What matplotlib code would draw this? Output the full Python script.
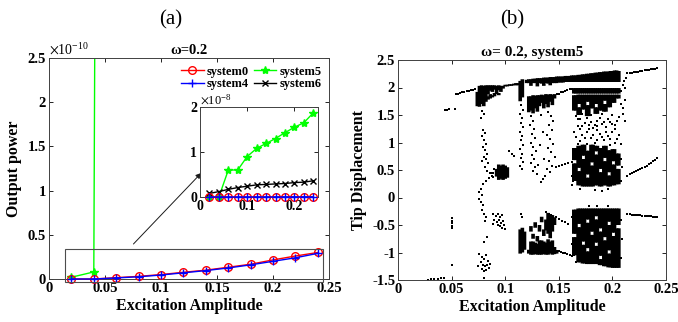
import matplotlib
matplotlib.use("Agg")
import matplotlib.pyplot as plt
from matplotlib.patches import Rectangle
from matplotlib.ticker import FuncFormatter

plt.rcParams['font.family'] = ['Liberation Serif', 'DejaVu Serif']
plt.rcParams['mathtext.fontset'] = 'stix'

# ---------------- (a) output power ----------------
amp = [0.02, 0.04, 0.06, 0.08, 0.10, 0.12, 0.14, 0.16, 0.18, 0.20, 0.22, 0.24]
# watts
p_sys0 = [0.0, 0.0, 0.015e-10, 0.03e-10, 0.05e-10, 0.076e-10, 0.10e-10, 0.133e-10,
          0.167e-10, 0.216e-10, 0.26e-10, 0.30e-10]
p_sys4 = [0.0, 0.0, 0.012e-10, 0.025e-10, 0.045e-10, 0.07e-10, 0.095e-10, 0.125e-10,
          0.16e-10, 0.20e-10, 0.24e-10, 0.29e-10]
p_sys5 = [0.02e-10, 0.08e-10, 0.60e-8, 0.60e-8, 0.90e-8, 1.08e-8, 1.19e-8, 1.30e-8,
          1.43e-8, 1.55e-8, 1.65e-8, 1.87e-8]
p_sys6 = [0.08e-8, 0.12e-8, 0.17e-8, 0.21e-8, 0.24e-8, 0.27e-8, 0.28e-8, 0.29e-8,
          0.30e-8, 0.32e-8, 0.33e-8, 0.36e-8]

# ---------------- (b) bifurcation, system5 ----------------
# thin branches
br_x = [0.028, 0.031, 0.034, 0.037, 0.040, 0.043,
        0.044, 0.046, 0.048, 0.053,
        0.054, 0.056, 0.058, 0.060, 0.062, 0.064, 0.066, 0.068, 0.070, 0.072,
        0.148, 0.150, 0.152, 0.154, 0.156, 0.158, 0.160, 0.162,
        0.147, 0.150, 0.153, 0.156, 0.159, 0.162,
        0.138, 0.141, 0.144, 0.147, 0.150, 0.153, 0.156, 0.159,
        0.148, 0.150, 0.152, 0.154, 0.156, 0.158, 0.160, 0.162,
        0.214, 0.216, 0.218, 0.220, 0.222, 0.224, 0.226, 0.228, 0.230, 0.232, 0.234, 0.236, 0.238, 0.240, 0.242,
        0.214, 0.216, 0.218, 0.220, 0.222, 0.224, 0.226, 0.228, 0.230, 0.232, 0.234, 0.236, 0.238, 0.240, 0.242,
        0.214, 0.216, 0.218, 0.220, 0.222, 0.224, 0.226, 0.228, 0.230, 0.232, 0.234, 0.236, 0.238, 0.240, 0.242]
br_y = [-1.50, -1.49, -1.485, -1.475, -1.47, -1.46,
        1.60, 1.60, 1.61, 1.61,
        1.88, 1.89, 1.90, 1.91, 1.92, 1.93, 1.94, 1.95, 1.96, 1.97,
        1.88, 1.89, 1.91, 1.92, 1.94, 1.95, 1.97, 1.98,
        0.55, 0.57, 0.59, 0.61, 0.63, 0.65,
        -0.27, -0.30, -0.33, -0.36, -0.39, -0.42, -0.45, -0.48,
        -0.97, -0.98, -0.99, -1.00, -1.01, -1.03, -1.04, -1.06,
        2.26, 2.27, 2.27, 2.28, 2.28, 2.29, 2.30, 2.30, 2.31, 2.32, 2.32, 2.33, 2.34, 2.34, 2.35,
        0.40, 0.42, 0.44, 0.46, 0.48, 0.50, 0.52, 0.54, 0.56, 0.58, 0.61, 0.63, 0.66, 0.69, 0.72,
        -0.30, -0.305, -0.31, -0.315, -0.32, -0.32, -0.325, -0.33, -0.33, -0.335, -0.34, -0.345, -0.35, -0.355, -0.36]

# dense intervals (x, y_low, y_high)
bands = [
    # cluster near 0.08, top
    (0.074, 1.66, 1.92), (0.076, 1.65, 2.03), (0.078, 1.70, 2.04), (0.080, 1.66, 2.03),
    (0.082, 1.74, 2.04), (0.084, 1.88, 2.04), (0.084, 1.78, 1.84), (0.086, 1.94, 2.04),
    (0.086, 1.80, 1.88), (0.088, 1.92, 2.04), (0.088, 1.82, 1.86), (0.090, 1.96, 2.04),
    (0.090, 1.84, 1.90), (0.092, 1.88, 2.03), (0.094, 1.95, 2.04), (0.094, 1.86, 1.90),
    (0.096, 1.92, 2.03), (0.098, 1.98, 2.03),
    # short upper branch 0.1-0.113
    (0.100, 2.02, 2.05), (0.102, 2.02, 2.05), (0.104, 2.03, 2.06), (0.106, 2.03, 2.06),
    (0.108, 2.04, 2.07), (0.110, 2.04, 2.08), (0.112, 2.04, 2.08),
    # blob near 0.1
    (0.092, 0.38, 0.52), (0.094, 0.32, 0.60), (0.096, 0.34, 0.58), (0.098, 0.32, 0.60),
    (0.100, 0.34, 0.58), (0.102, 0.36, 0.55),
    # stripe at 0.115
    (0.114, 1.75, 2.12), (0.116, 1.82, 2.15),
    (0.114, -1.02, -0.58), (0.116, -1.00, -0.55), (0.118, -0.95, -0.62),
    # cluster 0.12-0.16, top band
    (0.120, 2.08, 2.14), (0.122, 2.08, 2.15), (0.124, 2.03, 2.15), (0.126, 2.08, 2.16),
    (0.128, 2.08, 2.16), (0.130, 2.02, 2.17), (0.132, 2.08, 2.17), (0.134, 2.07, 2.17),
    (0.136, 2.03, 2.18), (0.138, 2.08, 2.18), (0.140, 2.07, 2.18), (0.142, 2.04, 2.19),
    (0.144, 2.08, 2.19), (0.146, 2.08, 2.19), (0.148, 2.08, 2.20), (0.150, 2.09, 2.20),
    (0.152, 2.09, 2.20), (0.154, 2.09, 2.20), (0.156, 2.10, 2.21), (0.158, 2.10, 2.21),
    (0.160, 2.10, 2.21), (0.162, 2.10, 2.22),
    # cluster 0.12-0.15, second branch
    (0.122, 1.55, 1.84), (0.124, 1.58, 1.84), (0.126, 1.53, 1.86), (0.128, 1.62, 1.85),
    (0.130, 1.56, 1.86), (0.132, 1.66, 1.86), (0.134, 1.72, 1.87), (0.136, 1.62, 1.86),
    (0.138, 1.70, 1.88), (0.140, 1.64, 1.87), (0.142, 1.74, 1.88), (0.144, 1.68, 1.87),
    (0.146, 1.80, 1.88),
    # cluster 0.12-0.15, lower part
    (0.122, -1.02, -0.95), (0.124, -1.04, -0.80), (0.124, -0.62, -0.52), (0.126, -1.04, -0.80),
    (0.126, -0.75, -0.66), (0.128, -1.03, -0.82), (0.128, -0.55, -0.45), (0.130, -1.04, -0.84),
    (0.130, -0.80, -0.70), (0.132, -1.04, -0.78), (0.132, -0.62, -0.50), (0.134, -1.04, -0.78),
    (0.134, -0.45, -0.35), (0.136, -1.03, -0.80), (0.136, -0.70, -0.58), (0.138, -1.04, -0.82),
    (0.138, -0.60, -0.40), (0.140, -1.04, -0.76), (0.140, -0.66, -0.28), (0.142, -1.02, -0.80),
    (0.142, -0.74, -0.30), (0.144, -1.04, -0.78), (0.144, -0.62, -0.32), (0.146, -1.03, -0.90),
    (0.146, -0.50, -0.36), (0.148, -1.02, -0.96),
]

# big chaotic cluster 0.164-0.206, columns every 0.002
c_x = [0.164, 0.166, 0.168, 0.170, 0.172, 0.174, 0.176, 0.178, 0.180, 0.182, 0.184,
       0.186, 0.188, 0.190, 0.192, 0.194, 0.196, 0.198, 0.200, 0.202, 0.204, 0.206]
c_top = [2.22, 2.22, 2.23, 2.23, 2.24, 2.24, 2.25, 2.25, 2.26, 2.26, 2.27,
         2.27, 2.28, 2.28, 2.29, 2.29, 2.29, 2.30, 2.30, 2.31, 2.31, 2.30]
# the chaotic parts, read for pairs of neighbouring columns
c_pair_x = [0.164, 0.168, 0.172, 0.176, 0.180, 0.184, 0.188, 0.192, 0.196, 0.200, 0.204]
c_upper = [
    [(1.89, 1.99), (1.58, 1.86)],
    [(1.89, 1.99), (1.70, 1.87), (1.50, 1.64)],
    [(1.89, 1.99), (1.60, 1.87)],
    [(1.89, 1.99), (1.74, 1.87), (1.48, 1.68)],
    [(1.89, 1.99), (1.62, 1.87)],
    [(1.89, 1.99), (1.70, 1.87), (1.52, 1.64)],
    [(1.89, 1.99), (1.58, 1.87)],
    [(1.89, 1.99), (1.76, 1.87), (1.56, 1.70)],
    [(1.89, 1.99), (1.64, 1.87)],
    [(1.89, 1.99), (1.72, 1.87)],
    [(1.89, 1.99), (1.80, 1.87)],
]
c_mid = [
    [(0.30, 0.62), (0.68, 0.90)],
    [(0.22, 0.48), (0.54, 0.94)],
    [(0.20, 0.70), (0.76, 0.96)],
    [(0.20, 0.36), (0.42, 0.85)],
    [(0.20, 0.58), (0.64, 0.96)],
    [(0.22, 0.78), (0.84, 0.94)],
    [(0.20, 0.46), (0.52, 0.90)],
    [(0.22, 0.66), (0.72, 0.94)],
    [(0.20, 0.40), (0.46, 0.86)],
    [(0.22, 0.60), (0.66, 0.88)],
    [(0.24, 0.52), (0.58, 0.80)],
]
c_low = [
    [(-0.66, -0.22), (-1.05, -0.72)],
    [(-0.48, -0.20), (-1.18, -0.54)],
    [(-0.80, -0.20), (-1.20, -0.86)],
    [(-0.40, -0.20), (-0.92, -0.46), (-1.21, -0.98)],
    [(-0.62, -0.20), (-1.21, -0.68)],
    [(-0.34, -0.20), (-0.82, -0.40), (-1.21, -0.88)],
    [(-0.56, -0.20), (-1.06, -0.62), (-1.23, -1.12)],
    [(-0.72, -0.20), (-1.25, -0.78)],
    [(-0.44, -0.20), (-0.96, -0.50), (-1.27, -1.02)],
    [(-0.64, -0.20), (-1.28, -0.70)],
    [(-0.50, -0.20), (-1.28, -0.56)],
]

# scattered single points
dots = [
    (0.050, -0.37), (0.050, -0.42), (0.050, -0.47), (0.050, -0.52), (0.050, -0.56), (0.050, -1.23),
    (0.078, 1.58), (0.080, 1.52), (0.077, 1.45), (0.079, 1.22), (0.081, 1.18), (0.078, 1.12),
    (0.080, 1.05), (0.082, 0.98), (0.079, 0.92), (0.081, 0.86), (0.083, 0.80), (0.080, 0.74),
    (0.082, 0.70), (0.078, 0.66), (0.084, 0.62), (0.081, 0.56), (0.083, 0.48), (0.086, 0.44),
    (0.088, 0.40), (0.085, 0.36), (0.082, 0.30), (0.079, 0.24), (0.077, 0.16), (0.076, 0.10),
    (0.078, 0.04), (0.076, -0.02), (0.077, -0.08), (0.079, -0.14), (0.078, -0.22), (0.080, -0.30),
    (0.082, -0.36), (0.081, -0.42), (0.083, -0.72), (0.080, -0.80),
    (0.076, -1.02), (0.078, -1.08), (0.080, -1.12), (0.082, -1.05), (0.084, -1.15), (0.077, -1.18),
    (0.079, -1.22), (0.081, -1.25), (0.083, -1.22), (0.085, -1.28), (0.078, -1.30), (0.080, -1.34),
    (0.082, -1.31), (0.086, -1.20), (0.075, -1.25), (0.080, -1.47),
    (0.087, 0.45), (0.089, 0.38), (0.089, 0.45), (0.090, 0.52),
    (0.089, -0.30), (0.091, -0.34), (0.093, -0.30), (0.095, -0.36), (0.097, -0.32), (0.090, -0.40),
    (0.092, -0.44), (0.094, -0.40), (0.096, -0.46), (0.098, -0.42), (0.099, -0.50), (0.097, -0.55),
    (0.093, -0.50), (0.100, -0.58), (0.095, -0.52), (0.089, -0.48),
    (0.115, 1.68), (0.117, 1.60), (0.114, 1.52), (0.116, 1.45), (0.115, 1.36), (0.117, 1.28),
    (0.114, 1.20), (0.116, 1.12), (0.115, 1.04), (0.117, 0.96), (0.114, 0.88), (0.116, 0.80),
    (0.115, 0.72), (0.117, 0.64), (0.114, 0.58), (0.116, 0.52), (0.104, 0.84), (0.106, 0.80),
    (0.108, 0.76), (0.115, -0.30), (0.116, -0.35),
    (0.124, 1.48), (0.126, 1.40), (0.123, 1.32), (0.127, 1.25), (0.125, 1.16), (0.128, 1.08),
    (0.124, 1.00), (0.126, 0.92), (0.129, 0.85), (0.125, 0.78), (0.127, 0.70), (0.124, 0.62),
    (0.128, 0.55), (0.126, 0.48), (0.130, 0.42),
    (0.140, 1.55), (0.143, 1.48), (0.145, 1.40), (0.141, 1.32), (0.144, 1.22), (0.139, 1.14),
    (0.142, 1.06), (0.145, 0.98), (0.140, 0.90), (0.143, 0.82), (0.146, 0.74), (0.141, 0.66),
    (0.144, 0.58), (0.139, 0.52), (0.142, 0.46), (0.137, 0.40), (0.135, 0.34), (0.133, 0.28),
    (0.133, 1.50), (0.135, 1.20), (0.132, 0.95), (0.136, 0.70), (0.131, 0.60),
    (0.166, 1.48), (0.170, 1.42), (0.174, 1.36), (0.168, 1.30), (0.178, 1.32), (0.182, 1.26),
    (0.176, 1.20), (0.186, 1.40), (0.190, 1.34), (0.194, 1.28), (0.198, 1.38), (0.202, 1.32),
    (0.206, 1.46), (0.210, 1.52), (0.212, 1.40), (0.172, 1.14), (0.180, 1.08), (0.188, 1.16),
    (0.192, 1.04), (0.196, 1.12), (0.200, 1.20), (0.204, 1.06), (0.184, 1.00), (0.170, 1.02),
    (0.208, 0.98), (0.166, 1.10), (0.176, 0.98), (0.198, 0.96), (0.186, 1.22), (0.164, 1.20),
    (0.210, 1.62), (0.208, 1.70), (0.212, 1.78), (0.210, 2.05), (0.212, 2.00), (0.208, 1.94),
    (0.211, 2.12), (0.213, 2.18),
    (0.168, 1.42), (0.172, 1.30), (0.176, 1.44), (0.180, 1.38), (0.184, 1.32), (0.188, 1.44),
    (0.192, 1.38), (0.196, 1.42), (0.200, 1.34), (0.204, 1.40), (0.170, 1.24), (0.178, 1.24),
    (0.186, 1.30), (0.194, 1.20), (0.202, 1.24), (0.174, 1.08), (0.182, 1.14), (0.190, 1.10),
    (0.198, 1.06), (0.206, 1.14), (0.168, 0.98), (0.186, 1.04), (0.202, 1.00), (0.180, 1.50),
    (0.190, 1.52), (0.172, 1.52), (0.200, 1.50),
    (0.162, 0.40), (0.163, 0.30), (0.162, 0.22), (0.184, 0.14), (0.190, 0.12), (0.170, 0.16),
    (0.196, 0.16), (0.208, 0.30), (0.209, 0.55), (0.208, 0.70), (0.162, -0.35), (0.163, -0.60),
    (0.162, -0.85), (0.164, -1.05), (0.166, -1.18), (0.208, -0.40), (0.209, -0.75),
    (0.208, -1.10), (0.196, -0.15), (0.178, -0.16), (0.186, -0.15),
]

fig = plt.figure(figsize=(6.78, 3.22), dpi=100)
W, H = 678.0, 322.0


def style_axes(ax, fs=10.5):
    ax.tick_params(direction='in', length=3, width=0.6, top=True, right=True,
                   labelsize=fs, pad=2)
    for lab in ax.get_xticklabels() + ax.get_yticklabels():
        lab.set_fontweight('bold')
    for s in ax.spines.values():
        s.set_linewidth(0.7)
        s.set_color('0.25')


fmt = FuncFormatter(lambda v, p: '%g' % v)

# ----- panel (a)
ax1 = fig.add_axes([49 / W, 1 - 279 / H, 280 / W, 221 / H])
m0 = [v / 1e-10 for v in p_sys0]
m4 = [v / 1e-10 for v in p_sys4]
m5 = [v / 1e-10 for v in p_sys5]
m6 = [v / 1e-10 for v in p_sys6]
ax1.plot(amp, m0, '-o', color='red', mfc='none', ms=5.5, lw=1.0, mew=1.0,
         label='system0', clip_on=False, zorder=3)
ax1.plot(amp, m4, '-+', color='blue', ms=6, lw=1.0, mew=1.0,
         label='system4', clip_on=False, zorder=4)
ax1.plot(amp, m5, '-*', color='#00ff00', ms=6, lw=1.0, label='system5', zorder=2)
ax1.plot(amp, m6, '-x', color='black', ms=4.5, lw=1.0, mew=1.0, label='system6', zorder=2)
ax1.set_xlim(0, 0.25)
ax1.set_ylim(0, 2.5)
ax1.set_xticks([0, 0.05, 0.1, 0.15, 0.2, 0.25])
ax1.set_yticks([0, 0.5, 1, 1.5, 2, 2.5])
ax1.xaxis.set_major_formatter(fmt)
ax1.yaxis.set_major_formatter(fmt)
style_axes(ax1)
ax1.set_xlabel('Excitation Amplitude', fontsize=11.5, fontweight='bold', labelpad=2)
ax1.set_ylabel('Output power', fontsize=11.5, fontweight='bold', labelpad=4)
ax1.set_title('ω=0.2', fontsize=10.5, fontweight='bold', pad=3)
ax1.text(0.0, 1.0, r'$\times\mathregular{10^{-10}}$', transform=ax1.transAxes,
         fontsize=10, ha='left', va='bottom')
ax1.legend(ncol=2, loc='upper right', bbox_to_anchor=(1.0, 1.0), frameon=False,
           prop={'weight': 'bold', 'size': 9}, handlelength=1.8, handletextpad=0.25,
           columnspacing=0.4, labelspacing=0.05, borderaxespad=0.2)
ax1.add_patch(Rectangle((0.014, -0.03), 0.231, 0.365, fill=False, ec='0.3', lw=0.8,
                        clip_on=False, zorder=5))
ax1.annotate('', xy=(0.136, 1.2), xytext=(0.0754, 0.396),
             arrowprops=dict(arrowstyle='-|>', color='0.1', lw=0.7,
                             mutation_scale=8, shrinkA=0, shrinkB=0))

# inset
axi = fig.add_axes([200 / W, 1 - 197 / H, 118 / W, 90 / H])
i0 = [v / 1e-8 for v in p_sys0]
i4 = [v / 1e-8 for v in p_sys4]
i5 = [v / 1e-8 for v in p_sys5]
i6 = [v / 1e-8 for v in p_sys6]
axi.plot(amp, i0, '-o', color='red', mfc='none', ms=5.5, lw=1.0, mew=1.0, clip_on=False, zorder=3)
axi.plot(amp, i4, '-+', color='blue', ms=6, lw=1.0, mew=1.0, clip_on=False, zorder=4)
axi.plot(amp, i5, '-*', color='#00ff00', ms=6, lw=1.0, clip_on=False, zorder=2)
axi.plot(amp, i6, '-x', color='black', ms=4.5, lw=1.0, mew=1.0, clip_on=False, zorder=2)
axi.set_xlim(0, 0.25)
axi.set_ylim(0, 2)
axi.set_xticks([0, 0.1, 0.2])
axi.set_yticks([0, 1, 2])
axi.xaxis.set_major_formatter(fmt)
axi.yaxis.set_major_formatter(fmt)
style_axes(axi, fs=10)
axi.text(0.0, 1.0, r'$\times\mathregular{10^{-8}}$', transform=axi.transAxes,
         fontsize=9, ha='left', va='bottom')

fig.text(171 / W, 1 - 20 / H, '(a)', fontsize=15, ha='center', va='center')

# ----- panel (b)
ax2 = fig.add_axes([398 / W, 1 - 280 / H, 268 / W, 220 / H])
seg_x, seg_lo, seg_hi = [], [], []
for x, lo, hi in bands:
    seg_x.append(x)
    seg_lo.append(lo)
    seg_hi.append(hi)
for x, top in zip(c_x, c_top):
    seg_x.append(x)
    seg_lo.append(2.10)
    seg_hi.append(top)
for x, up, mid, low in zip(c_pair_x, c_upper, c_mid, c_low):
    for lo, hi in up + mid + low:
        for xx in (x, x + 0.002):
            seg_x.append(xx)
            seg_lo.append(lo)
            seg_hi.append(hi)
ax2.vlines(seg_x, seg_lo, seg_hi, colors='black', lw=2.6, snap=False)
ax2.plot(br_x, br_y, 's', color='black', ms=1.8, mew=0)
ax2.plot([d[0] for d in dots], [d[1] for d in dots], 's', color='black', ms=2.1, mew=0)
ax2.set_xlim(0, 0.25)
ax2.set_ylim(-1.5, 2.5)
ax2.set_xticks([0, 0.05, 0.1, 0.15, 0.2, 0.25])
ax2.set_yticks([-1.5, -1, -0.5, 0, 0.5, 1, 1.5, 2, 2.5])
ax2.xaxis.set_major_formatter(fmt)
ax2.yaxis.set_major_formatter(fmt)
style_axes(ax2)
ax2.set_xlabel('Excitation Amplitude', fontsize=11.5, fontweight='bold', labelpad=2)
ax2.set_ylabel('Tip Displacement', fontsize=11.5, fontweight='bold', labelpad=4)
ax2.set_title('ω= 0.2, system5', fontsize=11, fontweight='bold', pad=3)

fig.text(512 / W, 1 - 20 / H, '(b)', fontsize=15, ha='center', va='center')

fig.savefig('out.png', dpi=100)
